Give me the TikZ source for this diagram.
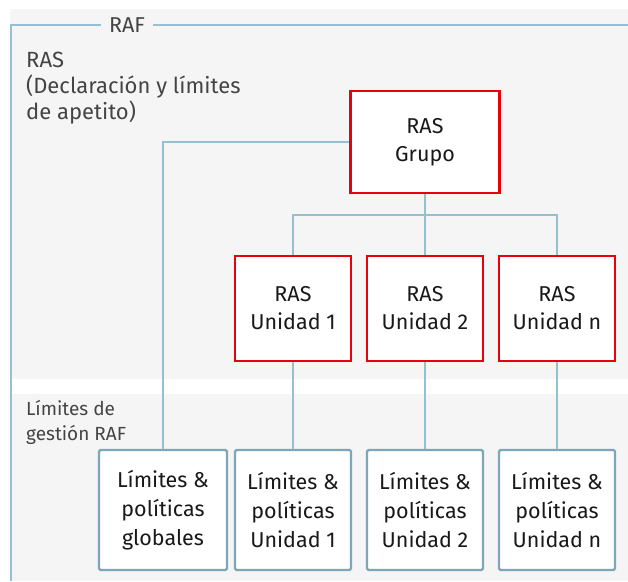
\documentclass[tikz,border=0pt]{standalone}
\usepackage{fontspec}
\setmainfont{Fira Sans}
\usetikzlibrary{positioning}

\definecolor{fondo}{HTML}{F5F5F5}
\definecolor{marco}{HTML}{96BFD2}
\definecolor{borde}{HTML}{7FA5B9}
\definecolor{rojo}{HTML}{E8000B}
\definecolor{texto}{HTML}{444444}

\tikzset{
  ras/.style={draw=rojo, line width=2.4pt, fill=white, minimum width=116pt,
    minimum height=105pt, align=center, inner sep=0pt, text=black!90,
    font=\fontsize{21.5}{28}\selectfont},
  lim/.style={draw=borde, line width=2.2pt, fill=white, rounded corners=1.5pt,
    minimum width=116pt, minimum height=120pt, align=center, inner sep=0pt,
    text=black!90, font=\fontsize{21.5}{29}\selectfont},
  link/.style={draw=marco, line width=2.2pt},
  etiq/.style={text=texto, align=left, anchor=north west, inner sep=0pt}
}

\begin{document}
\begin{tikzpicture}[x=1pt, y=-1pt]
% =====================
% FONDO
% =====================
\useasboundingbox (0,0) rectangle (628,581);
\fill[white] (0,0) rectangle (628,581);
\fill[fondo] (10,9) rectangle (628,379);
\fill[fondo] (10,394) rectangle (628,581);

% =====================
% MARCO RAF
% =====================
\node[text=texto, font=\fontsize{21.5}{24}\selectfont, inner xsep=8pt] (raf) at (127,25) {RAF};
\draw[link] (11,581) |- (raf.west);
\draw[link] (raf.east) -- (628,25);

% =====================
% ETIQUETAS
% =====================
\node[etiq, font=\fontsize{22}{26}\selectfont] (decl) at (26,52)
  {RAS\\(Declaración y límites\\de apetito)};
\node[etiq, font=\fontsize{19}{25}\selectfont] (gest) at (26,400)
  {Límites de\\gestión RAF};

% =====================
% CAJAS RAS
% =====================
\node[ras, minimum width=149pt, minimum height=102pt] (grupo) at (425,142) {RAS\\Grupo};
\node[ras] (u1) at (293,308.5) {RAS\\Unidad 1};
\node[ras] (u2) at (425,308.5) {RAS\\Unidad 2};
\node[ras] (un) at (557,308.5) {RAS\\Unidad n};

% =====================
% CAJAS LIMITES
% =====================
\node[lim, minimum width=128pt] (glob) at (163,510) {Límites \&\\políticas\\globales};
\node[lim] (l1) at (293,510) {Límites \&\\políticas\\Unidad 1};
\node[lim] (l2) at (425,510) {Límites \&\\políticas\\Unidad 2};
\node[lim] (ln) at (557,510) {Límites \&\\políticas\\Unidad n};

% =====================
% CONEXIONES
% =====================
\coordinate (bus) at (grupo.south |- 0,215);
\draw[link] (grupo.south) -- (bus);
\draw[link] (u1.north) |- (bus) -| (un.north);
\draw[link] (bus) -- (u2.north);
\draw[link] (grupo.west) -| (glob.north);
\draw[link] (u1.south) -- (l1.north);
\draw[link] (u2.south) -- (l2.north);
\draw[link] (un.south) -- (ln.north);

\end{tikzpicture}
\end{document}
